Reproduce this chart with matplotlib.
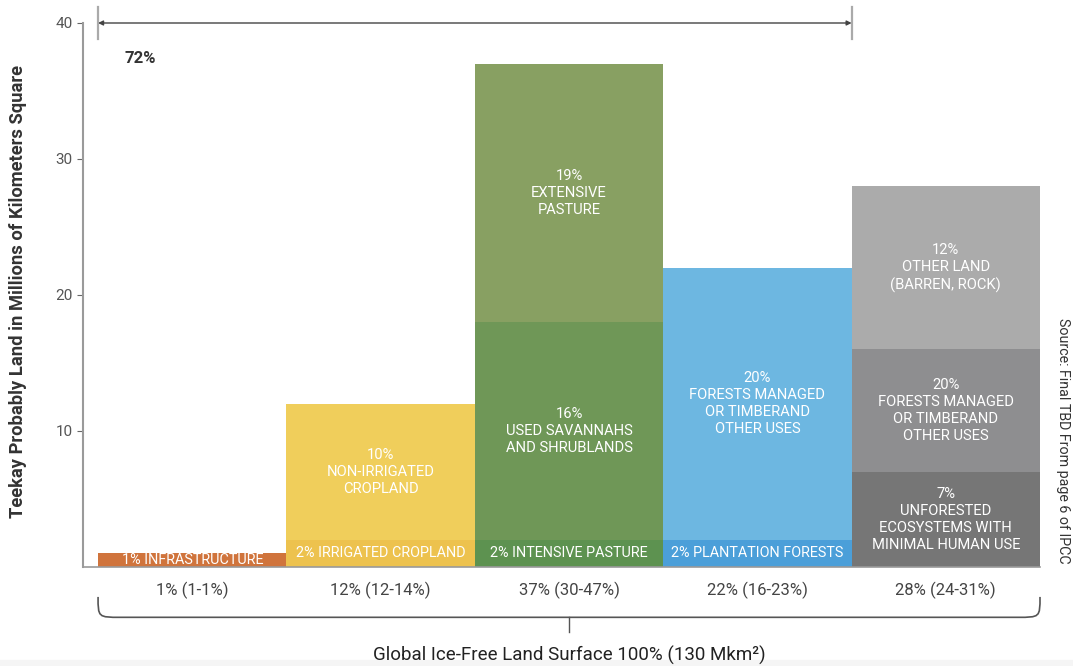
import matplotlib.pyplot as plt
from matplotlib.patches import PathPatch, Rectangle
from matplotlib.path import Path

# ---- data (millions of km²) ----
totals = ['1% (1-1%)', '12% (12-14%)', '37% (30-47%)', '22% (16-23%)', '28% (24-31%)']

seg_values = [
    [1],
    [2, 10],
    [2, 16, 19],
    [2, 20],
    [7, 9, 12],
]
seg_labels = [
    ['1% INFRASTRUCTURE'],
    ['2% IRRIGATED CROPLAND', '10%\nNON-IRRIGATED\nCROPLAND'],
    ['2% INTENSIVE PASTURE', '16%\nUSED SAVANNAHS\nAND SHRUBLANDS', '19%\nEXTENSIVE\nPASTURE'],
    ['2% PLANTATION FORESTS', '20%\nFORESTS MANAGED\nOR TIMBERAND\nOTHER USES'],
    ['7%\nUNFORESTED\nECOSYSTEMS WITH\nMINIMAL HUMAN USE',
     '20%\nFORESTS MANAGED\nOR TIMBERAND\nOTHER USES',
     '12%\nOTHER LAND\n(BARREN, ROCK)'],
]
seg_colors = [
    ['#D0743C'],
    ['#EDC24E', '#F0CE5B'],
    ['#5D9250', '#6F9757', '#88A062'],
    ['#4B9FD9', '#6DB7E1'],
    ['#767676', '#8E8E90', '#ABABAB'],
]
ytick_values = [10, 20, 30, 40]

plt.rcParams['font.family'] = ['Roboto', 'DejaVu Sans']

fig = plt.figure(figsize=(10.73, 6.66), dpi=100)
W, H = 1073, 666
ax = fig.add_axes([83 / W, (H - 567) / H, (1040 - 83) / W, (567 - 23) / H])

# stacked bars, width 1 each, touching
for i, (vals, labs, cols) in enumerate(zip(seg_values, seg_labels, seg_colors)):
    bottom = 0
    for v, lab, c in zip(vals, labs, cols):
        ax.bar(i + 0.5, v, width=1.0, bottom=bottom, color=c, edgecolor='none')
        fs = 10.4 if v <= 2 else 10.6
        ax.text(i + 0.5, bottom + v / 2, lab, ha='center', va='center',
                color='white', fontsize=fs, linespacing=1.28)
        bottom += v
    ax.text(i + 0.5, -1.75, totals[i], ha='center', va='center',
            fontsize=12, color='#444444')

n = len(seg_values)
ax.set_xlim(-0.08, n)
ax.set_ylim(0, 40)
ax.set_xticks([])
ax.set_yticks(ytick_values)
ax.tick_params(axis='y', length=4, color='#666666', labelcolor='#555555', labelsize=11)
for s in ['top', 'right']:
    ax.spines[s].set_visible(False)
ax.spines['left'].set_color('#9a9a9a')
ax.spines['left'].set_linewidth(1.5)
ax.spines['bottom'].set_color('#9a9a9a')
ax.spines['bottom'].set_linewidth(1.2)

# top arrow spanning the first four bars (72%)
share = sum(sum(v) for v in seg_values[:4])
ax.annotate('', xy=(0, 40), xytext=(4, 40), annotation_clip=False,
            arrowprops=dict(arrowstyle='<|-|>', lw=1.0, color='#444444',
                            mutation_scale=7, shrinkA=0, shrinkB=0))
for xe in (0, 4):
    ax.plot([xe, xe], [38.8, 41.2], color='#aaaaaa', lw=1.6, clip_on=False)
ax.text(0.14, 37.4, f'{share}%', fontsize=12, fontweight='bold', color='#333333',
        ha='left', va='center')

# bottom brace
dx = 0.12
yb, yt = -3.7, -2.2
verts = [(0, yt), (0, yb), (0, yb), (dx, yb),
         (n - dx, yb), (n, yb), (n, yb), (n, yt)]
codes = [Path.MOVETO, Path.CURVE4, Path.CURVE4, Path.CURVE4,
         Path.LINETO, Path.CURVE4, Path.CURVE4, Path.CURVE4]
brace = PathPatch(Path(verts, codes), fill=False, edgecolor='#555555', lw=1.2,
                  clip_on=False)
ax.add_patch(brace)
ax.plot([n / 2, n / 2], [yb, -4.8], color='#555555', lw=1.0, clip_on=False)
ax.text(n / 2, -6.5, 'Global Ice-Free Land Surface 100% (130 Mkm²)',
        ha='center', va='center', fontsize=13.5, color='#222222')

# axis label and source note
fig.text(18 / W, (H - 292) / H, 'Teekay Probably Land in Millions of Kilometers Square',
         rotation=90, ha='center', va='center', fontsize=13.2, fontweight='bold',
         color='#333333')
fig.text(1063 / W, (H - 441) / H, 'Source: Final TBD From page 6 of IPCC',
         rotation=-90, ha='center', va='center', fontsize=10.3, color='#333333')

fig.patches.append(Rectangle((0, 0), 1, 6 / H, transform=fig.transFigure,
                             color='#F5F5F5', zorder=-1))

fig.savefig('out.png', dpi=100)
